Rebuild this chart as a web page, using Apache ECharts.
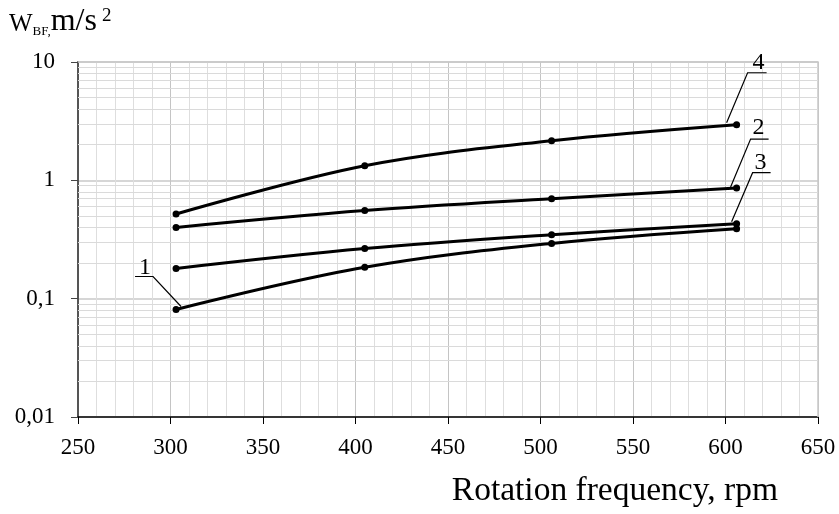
<!DOCTYPE html>
<html>
<head>
<meta charset="utf-8">
<script src="https://cdn.jsdelivr.net/npm/echarts@6/dist/echarts.min.js"></script>
<style>
  html, body { margin: 0; padding: 0; background: #fff; }
  #chart { width: 839px; height: 514px; }
</style>
</head>
<body>
<div id="chart"></div>
<script>
const rpm = [303, 405, 506, 606];
const curve1 = [0.081, 0.184, 0.293, 0.39];
const curve2 = [0.40, 0.555, 0.70, 0.86];
const curve3 = [0.18, 0.265, 0.347, 0.43];
const curve4 = [0.52, 1.33, 2.16, 2.95];
const curveNames = ['1', '2', '3', '4'];
const yTickLabels = ['0,01', '0,1', '1', '10'];
const minorYValues = [];
[0.01, 0.1, 1].forEach((d) => {
  for (let k = 2; k <= 9; k++) minorYValues.push(+(d * k).toPrecision(2));
});

// where each curve number sits, relative to one of its points (px)
const callouts = [
  { name: '1', series: 0, point: 0, text: [-31, -42], line: [[-41, -33], [-23, -33], [5, -3]] },
  { name: '4', series: 3, point: 3, text: [22, -62], line: [[30, -52], [11, -52], [-10, -2]] },
  { name: '2', series: 1, point: 3, text: [22, -60], line: [[32, -49], [14, -49], [-6, -1]] },
  { name: '3', series: 2, point: 3, text: [24, -61], line: [[34, -51], [16, -51], [-5, -2]] }
];

const serif = '"Liberation Serif", "DejaVu Serif", serif';
const chart = echarts.init(document.getElementById('chart'));

const curveSeries = [curve1, curve2, curve3, curve4].map((vals, i) => ({
  name: curveNames[i],
  type: 'line',
  data: rpm.map((x, j) => [x, vals[j]]),
  smooth: 0.35,
  symbol: 'circle',
  symbolSize: 7,
  itemStyle: { color: '#000' },
  lineStyle: { color: '#000', width: 3 },
  z: 5
}));

curveSeries.unshift({
  type: 'line',
  data: [],
  silent: true,
  markLine: {
    silent: true,
    symbol: 'none',
    label: { show: false },
    lineStyle: { color: '#dadada', width: 1, type: 'solid' },
    data: minorYValues.map((v) => ({ yAxis: v }))
  },
  z: 1
});

chart.setOption({
  animation: false,
  grid: { left: 78, right: 21, top: 62, bottom: 97 },
  xAxis: {
    type: 'value',
    min: 250,
    max: 650,
    interval: 50,
    name: 'Rotation frequency, rpm',
    nameLocation: 'end',
    nameGap: 0,
    nameTextStyle: {
      fontFamily: serif,
      fontSize: 33.5,
      color: '#000',
      align: 'right',
      verticalAlign: 'top',
      padding: [57, 40, 0, 0]
    },
    axisLine: { show: true, lineStyle: { color: '#000', width: 1.5 } },
    axisTick: { show: true, length: 7, lineStyle: { color: '#000' } },
    axisLabel: { fontFamily: serif, fontSize: 23, color: '#000', margin: 19 },
    splitLine: { show: true, lineStyle: { color: '#c4c4c4', width: 1 } },
    minorTick: { show: false, splitNumber: 5 },
    minorSplitLine: { show: true, lineStyle: { color: '#dedede', width: 1 } }
  },
  yAxis: {
    type: 'log',
    logBase: 10,
    min: 0.01,
    max: 10,
    axisLine: { show: true, lineStyle: { color: '#555', width: 2 } },
    axisTick: { show: true, length: 7, lineStyle: { color: '#444' } },
    axisLabel: {
      fontFamily: serif,
      fontSize: 23,
      color: '#000',
      margin: 23,
      formatter: (v) => yTickLabels[Math.round(Math.log10(v)) + 2]
    },
    splitLine: { show: true, lineStyle: { color: '#c8c8c8', width: 1.5 } }
  },
  series: curveSeries
});

// right and top borders of the plot, curve callouts and axis title
const rect = chart.getModel().getComponent('grid').coordinateSystem.getRect();
const graphics = [
  {
    type: 'polyline',
    shape: { points: [[rect.x, rect.y], [rect.x + rect.width, rect.y], [rect.x + rect.width, rect.y + rect.height]] },
    style: { stroke: '#c8c8c8', lineWidth: 1.5, fill: null },
    z: 2
  },
  {
    type: 'text',
    x: 9,
    y: 6,
    style: {
      text: '{w|W}{s|BF,}{m|m/s}{p|2}',
      rich: {
        w: { fontFamily: serif, fontSize: 25, color: '#000', verticalAlign: 'bottom', padding: [0, 0, 1, 0] },
        s: { fontFamily: serif, fontSize: 13, color: '#000', verticalAlign: 'bottom' },
        m: { fontFamily: serif, fontSize: 32, color: '#000', verticalAlign: 'bottom' },
        p: { fontFamily: serif, fontSize: 19, color: '#000', verticalAlign: 'bottom', padding: [0, 0, 12, 5] }
      }
    }
  }
];

callouts.forEach((c) => {
  const x = rpm[c.point];
  const y = [curve1, curve2, curve3, curve4][c.series][c.point];
  const p = chart.convertToPixel({ gridIndex: 0 }, [x, y]);
  graphics.push({
    type: 'polyline',
    shape: { points: c.line.map((d) => [p[0] + d[0], p[1] + d[1]]) },
    style: { stroke: '#000', lineWidth: 1.2, fill: null },
    z: 6
  });
  graphics.push({
    type: 'text',
    x: p[0] + c.text[0],
    y: p[1] + c.text[1],
    style: {
      text: c.name,
      fontFamily: serif,
      fontSize: 24,
      fill: '#000',
      align: 'center',
      verticalAlign: 'middle'
    },
    z: 6
  });
});

chart.setOption({ graphic: graphics });
</script>
</body>
</html>
